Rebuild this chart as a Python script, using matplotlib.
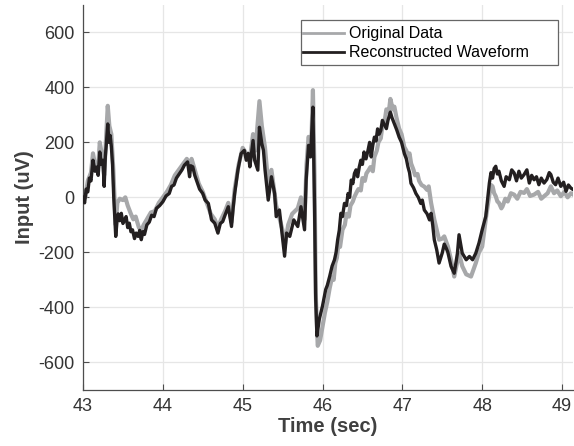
import matplotlib
matplotlib.use("Agg")
import matplotlib.pyplot as plt
from matplotlib.patches import Rectangle

plt.rcParams['font.family'] = ['Liberation Sans', 'DejaVu Sans']
plt.rcParams['axes.unicode_minus'] = False

# reconstructed waveform (black)
recon_t = [43.00, 43.02, 43.04, 43.06, 43.08, 43.10, 43.125, 43.15, 43.17, 43.19,
           43.21, 43.23, 43.25, 43.265, 43.28, 43.29, 43.31, 43.325, 43.34, 43.355,
           43.37, 43.385, 43.40, 43.41, 43.425, 43.44, 43.46, 43.48, 43.50, 43.52,
           43.54, 43.56, 43.58, 43.60, 43.62, 43.645, 43.665, 43.69, 43.71, 43.73,
           43.75, 43.77, 43.80, 43.83, 43.86, 43.89, 43.92, 43.96, 44.00, 44.04,
           44.08, 44.11, 44.14, 44.17, 44.21, 44.24, 44.27, 44.31, 44.335, 44.35,
           44.375, 44.40, 44.42, 44.46, 44.50, 44.53, 44.57, 44.61, 44.65, 44.69,
           44.72, 44.75, 44.78, 44.82, 44.86, 44.88, 44.90, 44.94, 44.98, 45.02,
           45.045, 45.07, 45.09, 45.13, 45.15, 45.19, 45.21, 45.24, 45.26, 45.28,
           45.32, 45.36, 45.40, 45.42, 45.46, 45.50, 45.525, 45.55, 45.59, 45.64,
           45.69, 45.73, 45.775, 45.795, 45.825, 45.85, 45.88, 45.90, 45.915, 45.93,
           45.96, 46.00, 46.04, 46.06, 46.09, 46.12, 46.15, 46.17, 46.19, 46.21,
           46.23, 46.25, 46.275, 46.30, 46.32, 46.34, 46.36, 46.38, 46.40, 46.42,
           46.44, 46.46, 46.48, 46.50, 46.52, 46.545, 46.57, 46.59, 46.61, 46.63,
           46.65, 46.67, 46.69, 46.71, 46.73, 46.75, 46.77, 46.80, 46.82, 46.85,
           46.87, 46.90, 46.93, 46.96, 46.99, 47.025, 47.05, 47.07, 47.09, 47.108,
           47.14, 47.17, 47.20, 47.23, 47.25, 47.275, 47.31, 47.34, 47.36, 47.38,
           47.40, 47.43, 47.46, 47.50, 47.525, 47.55, 47.57, 47.61, 47.65, 47.69,
           47.71, 47.75, 47.80, 47.84, 47.88, 47.92, 47.96, 48.00, 48.045, 48.09,
           48.11, 48.13, 48.15, 48.17, 48.19, 48.21, 48.24, 48.275, 48.30, 48.34,
           48.37, 48.40, 48.43, 48.46, 48.49, 48.525, 48.56, 48.59, 48.62, 48.65,
           48.68, 48.71, 48.74, 48.775, 48.81, 48.84, 48.86, 48.89, 48.92, 48.95,
           48.985, 49.02, 49.05, 49.08, 49.11, 49.14]
recon_v = [0, -20, 30, 20, 70, 60, 135, 95, 110, 80,
           165, 120, 135, 40, 150, 185, 267, 200, 225, 185,
           120, 0, -82, -142, -90, -60, -85, -58, -95, -82,
           -70, -110, -94, -125, -118, -150, -130, -142, -120, -154,
           -125, -135, -100, -90, -65, -70, -40, -30, -16, 5,
           14, 40, 45, 70, 87, 100, 117, 129, 75, 115,
           111, 80, 63, 30, 14, -10, -22, -82, -94, -130,
           -95, -88, -64, -34, -106, -40, 14, 99, 159, 171,
           135, 160, 111, 207, 135, 99, 255, 195, 171, 100,
           -10, 75, 14, -70, -46, -150, -214, -130, -142, -82,
           -106, -34, -118, 63, 189, 147, 328, -34, -371, -504,
           -443, -395, -335, -320, -287, -250, -227, -200, -154, -120,
           -58, -70, -22, -30, 14, 0, 63, 50, 87, 100,
           75, 110, 135, 120, 165, 140, 171, 200, 147, 190,
           219, 205, 249, 230, 243, 280, 267, 250, 280, 310,
           290, 267, 245, 219, 200, 159, 140, 111, 90, 51,
           35, 14, 0, -22, -10, -46, -60, -82, -58, -100,
           -154, -190, -239, -202, -170, -185, -200, -251, -276, -203,
           -136, -203, -227, -215, -227, -203, -166, -118, -69, 52,
           90, 70, 105, 113, 85, 95, 60, 40, 75, 64,
           100, 89, 60, 95, 70, 83, 100, 52, 80, 64,
           75, 46, 70, 52, 65, 90, 83, 55, 46, 70,
           40, 55, 22, 45, 34, 28]

# original data (gray)
orig_t = [43.00, 43.03, 43.06, 43.10, 43.125, 43.15, 43.19, 43.21, 43.24, 43.265,
          43.29, 43.31, 43.33, 43.355, 43.38, 43.40, 43.41, 43.43, 43.46, 43.50,
          43.53, 43.56, 43.60, 43.63, 43.66, 43.70, 43.73, 43.76, 43.80, 43.85,
          43.90, 43.95, 44.00, 44.05, 44.10, 44.15, 44.20, 44.25, 44.30, 44.335,
          44.36, 44.40, 44.45, 44.50, 44.55, 44.60, 44.65, 44.69, 44.73, 44.78,
          44.82, 44.86, 44.90, 44.95, 45.00, 45.045, 45.09, 45.13, 45.16, 45.21,
          45.24, 45.28, 45.32, 45.36, 45.42, 45.50, 45.525, 45.57, 45.62, 45.69,
          45.73, 45.775, 45.80, 45.825, 45.86, 45.88, 45.90, 45.915, 45.94, 45.97,
          46.00, 46.03, 46.06, 46.09, 46.12, 46.14, 46.16, 46.18, 46.20, 46.22,
          46.25, 46.28, 46.30, 46.33, 46.35, 46.38, 46.40, 46.43, 46.45, 46.48,
          46.50, 46.53, 46.55, 46.58, 46.60, 46.63, 46.65, 46.68, 46.70, 46.73,
          46.75, 46.78, 46.80, 46.83, 46.85, 46.88, 46.90, 46.925, 46.96, 46.99,
          47.025, 47.05, 47.07, 47.09, 47.11, 47.14, 47.16, 47.19, 47.21, 47.24,
          47.275, 47.31, 47.33, 47.36, 47.40, 47.46, 47.50, 47.525, 47.57, 47.61,
          47.65, 47.69, 47.71, 47.75, 47.80, 47.86, 47.92, 47.96, 48.00, 48.05,
          48.09, 48.11, 48.13, 48.15, 48.17, 48.19, 48.21, 48.24, 48.255, 48.29,
          48.32, 48.36, 48.40, 48.44, 48.48, 48.525, 48.56, 48.60, 48.65, 48.70,
          48.74, 48.775, 48.82, 48.86, 48.90, 48.94, 48.985, 49.03, 49.07, 49.11,
          49.14]
orig_v = [20, 0, 60, 90, 160, 120, 110, 200, 150, 80,
          220, 333, 260, 230, 100, -40, -100, -20, -5, -10,
          0, -30, -60, -80, -70, -110, -120, -100, -80, -55,
          -50, -20, 0, 20, 45, 80, 100, 120, 140, 120,
          140, 100, 50, 20, -20, -60, -80, -110, -80, -50,
          -20, -90, 30, 120, 180, 160, 140, 230, 170, 350,
          260, 180, 50, 100, -30, -120, -180, -100, -60, -40,
          0, -80, 120, 220, 200, 390, 80, -350, -540, -520,
          -470, -420, -380, -330, -290, -300, -240, -220, -170, -180,
          -118, -100, -60, -70, -30, -15, 2, 20, 30, 25,
          70, 60, 87, 100, 110, 95, 147, 170, 200, 215,
          260, 280, 320, 310, 358, 320, 330, 292, 250, 230,
          183, 170, 150, 160, 123, 100, 80, 85, 60, 45,
          39, 27, 40, -20, -80, -154, -150, -142, -178, -227,
          -288, -230, -203, -250, -280, -288, -239, -200, -179, -69,
          10, 45, 40, 15, 4, -15, -20, -40, -33, -5,
          -15, 15, 10, -5, 20, 16, 30, 5, 10, 20,
          -5, 4, 15, 40, 15, 25, 4, 20, 0, 15,
          10]

x_ticks = [43, 44, 45, 46, 47, 48, 49]
y_ticks = [-600, -400, -200, 0, 200, 400, 600]

fig = plt.figure(figsize=(5.74, 4.46), dpi=100)
ax = fig.add_axes([0.1446, 0.126, 0.854, 0.863])

ax.plot(orig_t, orig_v, color='#a7a8aa', lw=3.0, label='Original Data', zorder=2)
ax.plot(recon_t, recon_v, color='#231f20', lw=2.4, label='Reconstructed Waveform', zorder=3)

ax.set_xlim(43, 49.14)
ax.set_ylim(-700, 700)
ax.set_xticks(x_ticks)
ax.set_yticks(y_ticks)

ax.spines['top'].set_visible(False)
ax.spines['right'].set_visible(False)
for s in ('left', 'bottom'):
    ax.spines[s].set_color('#4d4d4d')
    ax.spines[s].set_linewidth(0.9)
ax.tick_params(direction='in', length=4, width=0.8, colors='#4d4d4d',
               labelsize=13, labelcolor='#333333', pad=6)
ax.grid(True, color='#e6e6e6', lw=0.9, zorder=0)
ax.set_axisbelow(True)

ax.set_xlabel('Time (sec)', fontsize=14.5, fontweight='bold', color='#404040', labelpad=1)
ax.set_ylabel('Input (uV)', fontsize=14.5, fontweight='bold', color='#404040', labelpad=3)

# MATLAB-style legend: long handles, wide frame drawn by hand
leg = ax.legend(loc='upper left', bbox_to_anchor=(0.448, 0.944), fontsize=11.5,
                frameon=False, handlelength=2.6, handletextpad=0.3,
                borderpad=0, labelspacing=0.25, borderaxespad=0)
for line in leg.get_lines():
    line.set_linewidth(2.0)
ax.add_patch(Rectangle((0.444, 0.844), 0.525, 0.117, transform=ax.transAxes,
                       facecolor='white', edgecolor='#666666', lw=0.9, zorder=4))
leg.set_zorder(5)

fig.savefig('out.png', dpi=100)
